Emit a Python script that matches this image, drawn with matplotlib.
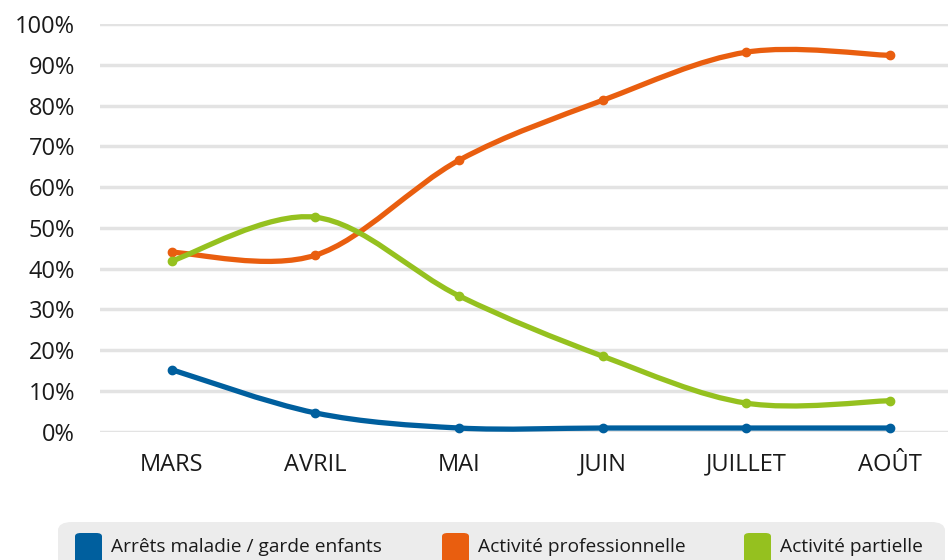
import numpy as np
import matplotlib.pyplot as plt
from matplotlib.path import Path
from matplotlib.patches import PathPatch, FancyBboxPatch

plt.rcParams['font.family'] = ['Open Sans', 'DejaVu Sans']

months = ["MARS", "AVRIL", "MAI", "JUIN", "JUILLET", "AOÛT"]
arrets = [15.2, 4.6, 0.9, 0.9, 0.9, 0.9]
activite_pro = [44.0, 43.3, 66.6, 81.3, 93.1, 92.3]
activite_partielle = [41.9, 52.6, 33.3, 18.5, 7.0, 7.6]

series = [
    ("Arrêts maladie / garde enfants", arrets, "#005f9e"),
    ("Activité professionnelle", activite_pro, "#e95e0f"),
    ("Activité partielle", activite_partielle, "#95c11f"),
]


def smooth_path(xs, ys):
    # excel-like smoothed line: cubic bezier segments (catmull-rom, tension 1/6)
    pts = np.column_stack([xs, ys])
    ext = np.vstack([pts[0], pts, pts[-1]])
    verts = [pts[0]]
    codes = [Path.MOVETO]
    for i in range(1, len(ext) - 2):
        p0, p1, p2, p3 = ext[i - 1], ext[i], ext[i + 1], ext[i + 2]
        verts += [p1 + (p2 - p0) / 6, p2 - (p3 - p1) / 6, p2]
        codes += [Path.CURVE4] * 3
    return Path(verts, codes)


fig = plt.figure(figsize=(9.48, 5.6), dpi=100)
ax = fig.add_axes([100 / 948, 128.3 / 560, 862 / 948, 407.7 / 560])

x = np.arange(len(months))
for label, vals, color in series:
    patch = PathPatch(smooth_path(x, vals), facecolor="none", edgecolor=color,
                      lw=3.8, capstyle="round", joinstyle="round", zorder=3,
                      clip_on=False)
    ax.add_patch(patch)
    ax.plot(x, vals, "o", color=color, ms=6, zorder=4, clip_on=False)

ax.set_xlim(-0.5, 5.5)
ax.set_ylim(0, 100)
ax.set_yticks(np.arange(0, 101, 10))
ax.set_yticklabels([f"{v}%" for v in range(0, 101, 10)])
ax.set_xticks(x)
ax.set_xticklabels(months)
ax.grid(axis="y", color="#e3e3e3", lw=2.5)
ax.set_axisbelow(True)
for s in ax.spines.values():
    s.set_visible(False)
ax.tick_params(axis="both", length=0, labelsize=17, colors="#1a1a1a")
ax.tick_params(axis="y", pad=18)
ax.tick_params(axis="x", pad=15)

# legend band at the bottom
fig.patches.append(FancyBboxPatch((58 / 948, -20 / 560), 887 / 948, 58 / 560,
                                  boxstyle="round,pad=0,rounding_size=0.015",
                                  transform=fig.transFigure, facecolor="#ececec",
                                  edgecolor="none", zorder=0))
legend_x = [75, 442, 744]
for (label, vals, color), lx in zip(series, legend_x):
    fig.patches.append(FancyBboxPatch((lx / 948, -10 / 560), 27 / 948, 37 / 560,
                                      boxstyle="round,pad=0,rounding_size=0.006",
                                      transform=fig.transFigure, facecolor=color,
                                      edgecolor="none", zorder=1))
    fig.text((lx + 36) / 948, 13 / 560, label, fontsize=13.8, color="#1a1a1a",
             va="center", ha="left")

fig.savefig("out.png", dpi=100)
